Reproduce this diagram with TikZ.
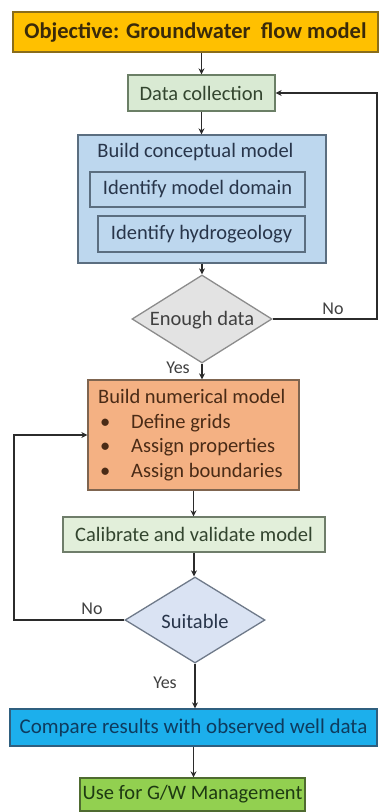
\documentclass[tikz,border=0pt]{standalone}
\usepackage{fontspec}
\setmainfont{Carlito}
\usetikzlibrary{arrows.meta,shapes.geometric}
\definecolor{objfill}{HTML}{FFC000}
\definecolor{objdraw}{HTML}{8A6D1A}
\definecolor{objtext}{HTML}{3A2A0A}
\definecolor{datafill}{HTML}{D9EAD3}
\definecolor{datadraw}{HTML}{6B7F66}
\definecolor{datatext}{HTML}{33452F}
\definecolor{concfill}{HTML}{BDD7EE}
\definecolor{concdraw}{HTML}{5B6E80}
\definecolor{conctext}{HTML}{28354A}
\definecolor{dafill}{HTML}{E3E3E3}
\definecolor{dadraw}{HTML}{8C8C8C}
\definecolor{numfill}{HTML}{F4B183}
\definecolor{numdraw}{HTML}{7F6550}
\definecolor{numtext}{HTML}{4A2B16}
\definecolor{calfill}{HTML}{E2EFDA}
\definecolor{caldraw}{HTML}{6F7D6A}
\definecolor{suitfill}{HTML}{DAE3F3}
\definecolor{suitdraw}{HTML}{6F7A8A}
\definecolor{compfill}{HTML}{1CAFEC}
\definecolor{compdraw}{HTML}{2F5F7F}
\definecolor{comptext}{HTML}{0E3B5E}
\definecolor{usefill}{HTML}{92D050}
\definecolor{usedraw}{HTML}{4F6B30}
\definecolor{usetext}{HTML}{1E3A12}
\definecolor{linecol}{HTML}{2B2B2B}
\begin{document}
\begin{tikzpicture}[x=1pt,y=-1pt,
  box/.style={rectangle,draw,line width=1.3pt,inner sep=0pt,font=\fontsize{20.5}{24}\selectfont},
  dia/.style={diamond,draw,line width=1.3pt,inner sep=0pt},
  conn/.style={draw=linecol,line width=1.8pt},
  arr/.style={conn,-{Stealth[length=6pt,width=6pt]}},
  lbl/.style={font=\fontsize{18}{20}\selectfont,text=black!75,inner sep=0pt}]
\useasboundingbox (0,0) rectangle (379,812);
\fill[white] (0,0) rectangle (379,812);

\node[box,fill=objfill,draw=objdraw,text=objtext,minimum width=365pt,minimum height=40pt,font=\fontsize{22.5}{26}\selectfont\bfseries] (obj) at (195.5,32) {Objective: Groundwater\ \ flow model};
\node[box,fill=datafill,draw=datadraw,text=datatext,minimum width=147pt,minimum height=36pt] (data) at (201.5,93) {Data collection};
\node[box,fill=concfill,draw=concdraw,minimum width=248pt,minimum height=128pt] (conc) at (202,199) {};
\node[inner sep=0pt,text=conctext,font=\fontsize{20.5}{24}\selectfont] (conct) at (195.5,152) {Build conceptual model};
\node[box,fill=concfill,draw=concdraw,text=conctext,minimum width=215pt,minimum height=35pt] (dom) at (197.5,189.5) {Identify model domain};
\node[box,fill=concfill,draw=concdraw,text=conctext,minimum width=207pt,minimum height=36pt] (hyd) at (201.5,234) {Identify hydrogeology};
\node[dia,fill=dafill,draw=dadraw,minimum width=140pt,minimum height=88pt] (enough) at (202,319) {};
\node[inner sep=0pt,text=black!75,font=\fontsize{20.5}{24}\selectfont] (enought) at (202,320) {Enough data};
\node[box,fill=numfill,draw=numdraw,minimum width=211pt,minimum height=110pt] (num) at (193.5,435) {};
\node[inner sep=0pt,anchor=west,align=left,text=numtext,font=\fontsize{20.5}{24.5}\selectfont] (numt) at (98,435) {Build numerical model\\
\hspace*{2pt}\makebox[31pt][l]{\textbullet}Define grids\\
\hspace*{2pt}\makebox[31pt][l]{\textbullet}Assign properties\\
\hspace*{2pt}\makebox[31pt][l]{\textbullet}Assign boundaries};
\node[box,fill=calfill,draw=caldraw,text=datatext,minimum width=262pt,minimum height=35pt] (cal) at (194,534.5) {Calibrate and validate model};
\node[dia,fill=suitfill,draw=suitdraw,minimum width=140pt,minimum height=86pt] (suit) at (195,620) {};
\node[inner sep=0pt,text=conctext,font=\fontsize{20.5}{24}\selectfont] (suitt) at (195,621) {Suitable};
\node[box,fill=compfill,draw=compdraw,text=comptext,minimum width=367pt,minimum height=37pt,font=\fontsize{21}{24}\selectfont] (comp) at (193.5,727.5) {Compare results with observed well data};
\node[box,fill=usefill,draw=usedraw,text=usetext,minimum width=225pt,minimum height=33pt] (use) at (192.5,794.5) {Use for G/W Management};

\coordinate (rb) at (377,319);
\coordinate (rt) at (377,93);
\coordinate (lb) at (14,620);
\coordinate (lt) at (14,435);

\draw[arr] (obj.south -| data.north) -- (data.north);
\draw[arr] (data.south) -- (data.south |- conc.north);
\draw[arr] (conc.south) -- (enough.north);
\draw[arr] (enough.south) -- (enough.south |- num.north);
\draw[arr] (num.south) -- (num.south |- cal.north);
\draw[arr] (cal.south) -- (cal.south |- suit.north);
\draw[arr] (suit.south) -- (suit.south |- comp.north);
\draw[arr] (comp.south) -- (comp.south |- use.north);
\draw[arr] (enough.east) -- (rb) -- (rt) -- (data.east);
\draw[arr] (suit.west) -- (lb) -- (lt) -- (num.west);

\node[lbl] (no1) at (333,309) {No};
\node[lbl] (yes1) at (178,368) {Yes};
\node[lbl] (no2) at (92,609) {No};
\node[lbl] (yes2) at (165,683) {Yes};
\end{tikzpicture}
\end{document}
